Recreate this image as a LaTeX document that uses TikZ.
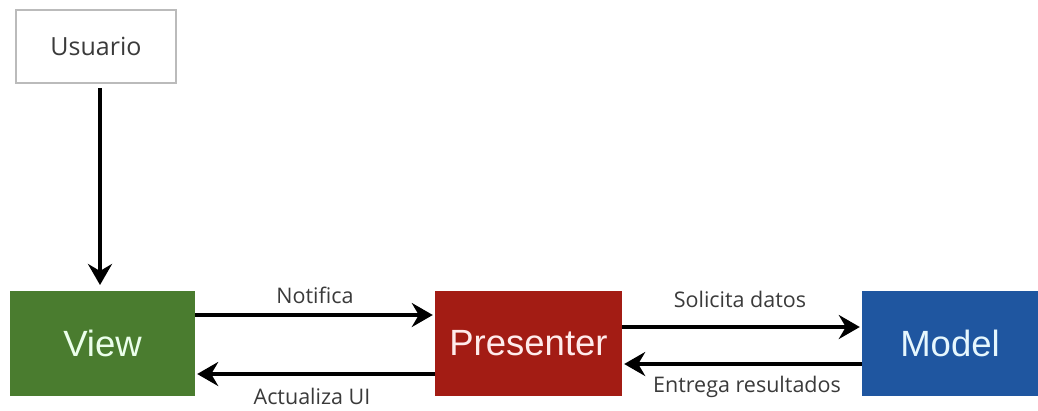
\documentclass[tikz,border=0pt]{standalone}
\usepackage{fontspec}
\setmainfont{Liberation Sans}
\newfontfamily\labelfont{Open Sans}
\usetikzlibrary{arrows.meta}
\definecolor{viewgreen}{HTML}{4A7C2F}
\definecolor{presred}{HTML}{A31C14}
\definecolor{modelblue}{HTML}{1F56A0}
\definecolor{boxgray}{HTML}{BBBBBB}
\definecolor{labelgray}{HTML}{3A3A3A}
\tikzset{
  mvpbox/.style={minimum width=#1, minimum height=105pt, inner sep=0pt,
    font=\fontsize{36.5}{38}\selectfont},
  userbox/.style={draw=boxgray, line width=1.2pt, minimum width=160pt, minimum height=73pt,
    inner sep=0pt, text=labelgray, font=\labelfont\fontsize{25}{27}\selectfont},
  flow/.style={line width=3.5pt, -{Stealth[length=21pt,width=24pt,inset=7pt]}},
  flowlabel/.style={text=labelgray, font=\labelfont\fontsize{21.5}{23}\selectfont, inner sep=0pt}
}
\begin{document}
\begin{tikzpicture}[x=1pt,y=-1pt]
  \useasboundingbox (0,0) rectangle (1038,410);
  \node[userbox] (user) at (96,46.5) {Usuario};
  \node[mvpbox=185pt, fill=viewgreen, text=green!8!white] (view) at (102.5,343) {View};
  \node[mvpbox=187pt, fill=presred, text=red!8!white] (pres) at (528.5,343) {Presenter};
  \node[mvpbox=176pt, fill=modelblue, text=cyan!10!white] (model) at (950,343) {Model};

  \coordinate (userdown) at (100,88);
  \coordinate (viewtop) at (100,285);
  \draw[flow] (userdown) -- (viewtop);

  \draw[flow] ([yshift=28pt]view.east) -- ([yshift=28pt,xshift=-2pt]pres.west);
  \draw[flow] ([yshift=-31pt]pres.west) -- ([yshift=-31pt,xshift=2pt]view.east);
  \draw[flow] ([yshift=16pt]pres.east) -- ([yshift=16pt,xshift=-2pt]model.west);
  \draw[flow] ([yshift=-21pt]model.west) -- ([yshift=-21pt,xshift=2pt]pres.east);

  \node[flowlabel] (lnot) at (315,295) {Notifica};
  \node[flowlabel] (lact) at (312,396) {Actualiza UI};
  \node[flowlabel] (lsol) at (740,299) {Solicita datos};
  \node[flowlabel] (lent) at (747,387) {Entrega resultados};
\end{tikzpicture}
\end{document}
